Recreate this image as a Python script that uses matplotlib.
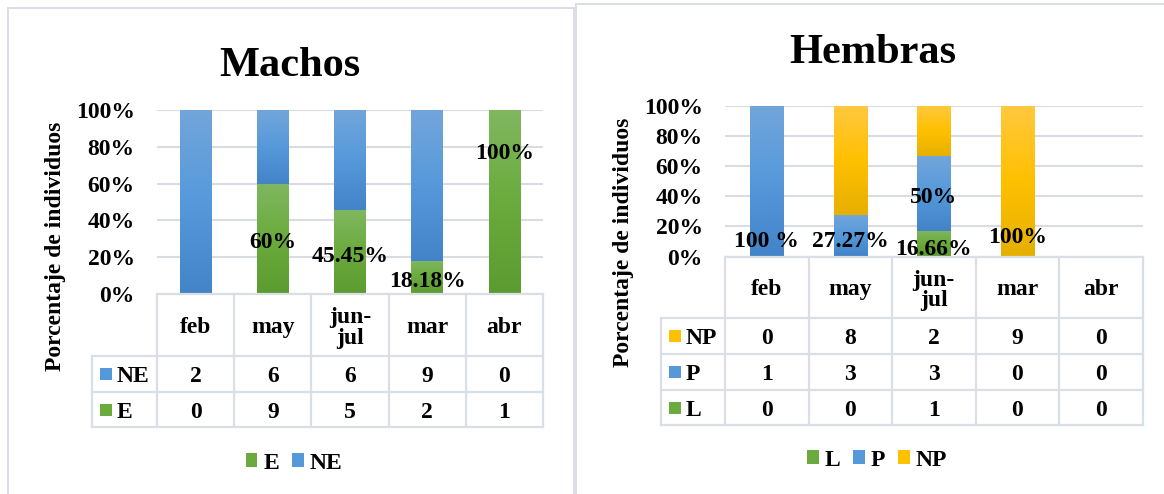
import matplotlib
matplotlib.use("Agg")
import matplotlib.pyplot as plt
import numpy as np
from matplotlib.colors import LinearSegmentedColormap
from matplotlib.patches import Rectangle, Patch
from matplotlib.lines import Line2D

# ---------------- data ----------------
months = ["feb", "may", "jun-\njul", "mar", "abr"]
y_ticks = [0, 20, 40, 60, 80, 100]

machos_ne = [2, 6, 6, 9, 0]
machos_e = [0, 9, 5, 2, 1]
machos_e_labels = ["", "60%", "45.45%", "18.18%", "100%"]

hembras_np = [0, 8, 2, 9, 0]
hembras_p = [1, 3, 3, 0, 0]
hembras_l = [0, 0, 1, 0, 0]
hembras_np_labels = ["", "", "", "100%", ""]
hembras_p_labels = ["100 %", "27.27%", "50%", "", ""]
hembras_l_labels = ["", "", "16.66%", "", ""]

# ---------------- style ----------------
plt.rcParams["font.family"] = ["Liberation Serif", "DejaVu Serif"]
plt.rcParams["font.weight"] = "bold"

W, H = 1164, 494
fig = plt.figure(figsize=(W / 100, H / 100), dpi=100)

FS = 17
LINE = "#dadee5"
GRID = "#d9dce1"

BLUE = ["#4284c7", "#5699db", "#72a6da"]
GREEN = ["#5b9b30", "#6bab3d", "#80b760"]
YELLOW = ["#e6b000", "#ffc000", "#ffc940"]


def cmap_of(stops):
    return LinearSegmentedColormap.from_list("g", stops)


GRAD = np.linspace(0, 1, 256).reshape(-1, 1)


def fx(px):
    return px / W


def fy(py):
    return 1 - py / H


def hline(x0, x1, y, color=LINE, lw=1.6):
    fig.add_artist(Line2D([fx(x0), fx(x1)], [fy(y), fy(y)],
                          transform=fig.transFigure, color=color, lw=lw,
                          solid_capstyle="projecting"))


def vline(x, y0, y1, color=LINE, lw=1.6):
    fig.add_artist(Line2D([fx(x), fx(x)], [fy(y0), fy(y1)],
                          transform=fig.transFigure, color=color, lw=lw,
                          solid_capstyle="projecting"))


def draw_panel(box, stack, title, title_xy, ylabel_xy, row_left, row_edges,
               legend_xy, bar_width):
    left, top, right, bottom = box
    ax = fig.add_axes([fx(left), fy(bottom), (right - left) / W, (bottom - top) / H])
    n = len(months)
    x = np.arange(n)
    totals = np.sum([s["values"] for s in stack], axis=0)
    base = np.zeros(n)
    for s in stack:
        frac = np.array([v / t if t else 0.0 for v, t in zip(s["values"], totals)])
        rects = ax.bar(x, frac, bar_width, bottom=base, color="none",
                       edgecolor="none", zorder=2)
        cm = cmap_of(s["colors"])
        for r in rects:
            h = r.get_height()
            if h <= 0:
                continue
            ax.imshow(GRAD, extent=[r.get_x(), r.get_x() + r.get_width(),
                                    r.get_y(), r.get_y() + h],
                      origin="lower", aspect="auto", cmap=cm, zorder=2,
                      interpolation="bilinear")
        for i, (txt, ly) in enumerate(zip(s["labels"], s["label_y"])):
            if txt:
                ax.text(x[i], ly, txt, ha="center", va="baseline",
                        fontsize=FS, fontweight="bold", zorder=5)
        base = base + frac

    ax.set_xlim(-0.5, n - 0.5)
    ax.set_ylim(0, 1)
    ax.set_yticks([t / 100 for t in y_ticks])
    ax.set_yticklabels([f"{t}%" for t in y_ticks], fontsize=FS, fontweight="bold")
    ax.set_xticks([])
    ax.tick_params(axis="y", length=0, pad=16)
    ax.yaxis.grid(True, color=GRID, lw=1.5)
    ax.set_axisbelow(True)
    for sp in ax.spines.values():
        sp.set_visible(False)
    ax.patch.set_alpha(0)

    # title and axis title
    fig.text(fx(title_xy[0]), fy(title_xy[1]), title, ha="center",
             va="baseline", fontsize=30.5, fontweight="bold")
    fig.text(fx(ylabel_xy[0]), fy(ylabel_xy[1]), "Porcentaje de individuos",
             rotation=90, ha="center", va="center", fontsize=FS,
             fontweight="bold")

    # data table under the plot
    edges = [ax.transData.transform((e, 0))[0] for e in np.arange(n + 1) - 0.5]
    table_bottom = row_edges[-1]
    hline(edges[0], edges[-1], bottom)
    for y in row_edges:
        hline(row_left, edges[-1], y)
    for e in edges:
        vline(e, bottom, table_bottom)
    vline(row_left, row_edges[0], table_bottom)

    hc = (bottom + row_edges[0]) / 2
    for i, m in enumerate(months):
        cx = (edges[i] + edges[i + 1]) / 2
        if "\n" in m:
            fig.text(fx(cx), fy(hc + 3), m, ha="center", va="center",
                     fontsize=FS, fontweight="bold", linespacing=0.95)
        else:
            fig.text(fx(cx), fy(hc), m, ha="center", va="center_baseline",
                     fontsize=FS, fontweight="bold")

    rows = list(reversed(stack))
    for r, s in enumerate(rows):
        y0, y1 = row_edges[r], row_edges[r + 1]
        rc = (y0 + y1) / 2
        sq = 12
        fig.add_artist(Rectangle((fx(row_left + 8), fy(rc + sq / 2)), sq / W, sq / H,
                                 transform=fig.transFigure,
                                 facecolor=s["colors"][1], edgecolor="none"))
        fig.text(fx(row_left + 25), fy(rc), s["name"], ha="left",
                 va="center_baseline", fontsize=FS, fontweight="bold")
        for i, v in enumerate(s["values"]):
            cx = (edges[i] + edges[i + 1]) / 2
            fig.text(fx(cx), fy(rc), str(v), ha="center", va="center_baseline",
                     fontsize=FS, fontweight="bold")

    handles = [Patch(facecolor=s["colors"][1], edgecolor="none") for s in stack]
    fig.legend(handles, [s["name"] for s in stack], loc="center",
               bbox_to_anchor=(fx(legend_xy[0]), fy(legend_xy[1])),
               ncol=len(stack), frameon=False, handlelength=0.5,
               handleheight=0.5, handletextpad=0.25, columnspacing=0.55,
               prop={"size": FS, "weight": "bold"})
    return ax


# panel frames
fig.add_artist(Rectangle((fx(8), fy(520)), (574 - 8) / W, (520 - 8) / H,
                         transform=fig.transFigure, facecolor="none",
                         edgecolor=LINE, lw=1.4))
fig.add_artist(Rectangle((fx(576), fy(520)), (1200 - 576) / W, (520 - 4) / H,
                         transform=fig.transFigure, facecolor="none",
                         edgecolor=LINE, lw=1.4))

machos_stack = [
    {"name": "E", "values": machos_e, "colors": GREEN,
     "labels": machos_e_labels, "label_y": [0, 0.25, 0.174, 0.038, 0.734]},
    {"name": "NE", "values": machos_ne, "colors": BLUE,
     "labels": [""] * 5, "label_y": [0] * 5},
]
draw_panel((157, 110, 543, 294), machos_stack, "Machos", (290, 76), (55, 246),
           92, [356, 392, 427], (294, 463), 0.41)

hembras_stack = [
    {"name": "L", "values": hembras_l, "colors": GREEN,
     "labels": hembras_l_labels, "label_y": [0, 0, 0.01, 0, 0]},
    {"name": "P", "values": hembras_p, "colors": BLUE,
     "labels": hembras_p_labels, "label_y": [0.063, 0.063, 0.355, 0, 0]},
    {"name": "NP", "values": hembras_np, "colors": YELLOW,
     "labels": hembras_np_labels, "label_y": [0, 0, 0, 0.09, 0]},
]
draw_panel((725, 106, 1142.5, 256.5), hembras_stack, "Hembras", (873, 63),
           (624, 242), 661, [318, 354, 390, 425], (877, 460), 0.40)

fig.savefig("out.png", dpi=100, facecolor="white")
